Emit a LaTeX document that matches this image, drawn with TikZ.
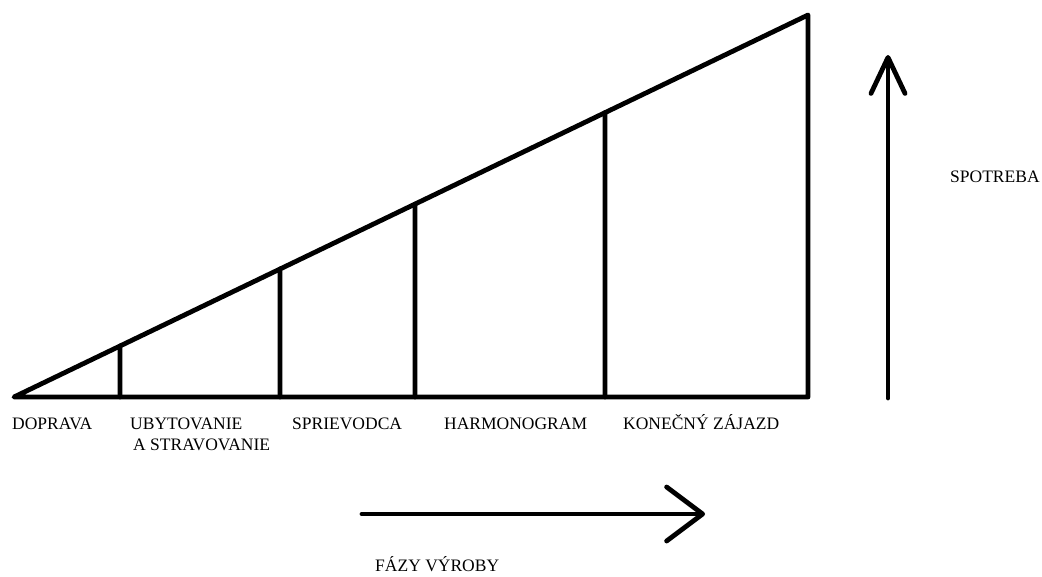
\documentclass[tikz,border=0pt]{standalone}
\usepackage{fontspec}
\setmainfont{Liberation Serif}
\usetikzlibrary{arrows.meta, positioning, calc}

\begin{document}
\begin{tikzpicture}[
  x=1pt, y=-1pt,
  edge/.style={line width=4.8pt, line cap=round, line join=round},
  axis/.style={line width=4.8pt, line cap=round,
    -{Straight Barb[length=36pt, width=#1, line width=4.8pt, round]}},
  stage/.style={font=\fontsize{17.5}{21}\selectfont, inner sep=0pt,
    anchor=base west, align=left},
]
  \useasboundingbox (0,0) rectangle (1042,576);

  % Triangle
  \coordinate (left)  at (14,397);
  \coordinate (right) at (808,397);
  \coordinate (tip)   at (808,15);
  \draw[edge] (left) -- (right) -- (tip) -- cycle;

  % Phase dividers
  \foreach \x/\n in {120/a, 280/b, 415/c, 605/d} {
    \coordinate (bot\n) at (\x,397);
    \coordinate (top\n) at ($(left)!{(\x-14)/794}!(tip)$);
    \draw[edge] (bot\n) -- (top\n);
  }

  % Phase labels
  \node[stage] (doprava) at (12,429) {DOPRAVA};
  \node[stage] (ubyt)    at (130,450) {UBYTOVANIE\\\hspace*{3pt}A STRAVOVANIE};
  \node[stage] (spriev)  at (292,429) {SPRIEVODCA};
  \node[stage] (harmon)  at (444,429) {HARMONOGRAM};
  \node[stage] (konec)   at (623,429) {KONEČNÝ ZÁJAZD};

  % Consumption axis
  \coordinate (cbot) at (888,398);
  \coordinate (ctop) at (888,55);
  \draw[axis=34pt] (cbot) -- (ctop);
  \node[stage] (spotreba) at (950,182) {SPOTREBA};

  % Production axis
  \coordinate (pleft)  at (362,514);
  \coordinate (pright) at (705,514);
  \draw[axis=54pt] (pleft) -- (pright);
  \node[stage] (fazy) at (375,571) {FÁZY VÝROBY};
\end{tikzpicture}
\end{document}
